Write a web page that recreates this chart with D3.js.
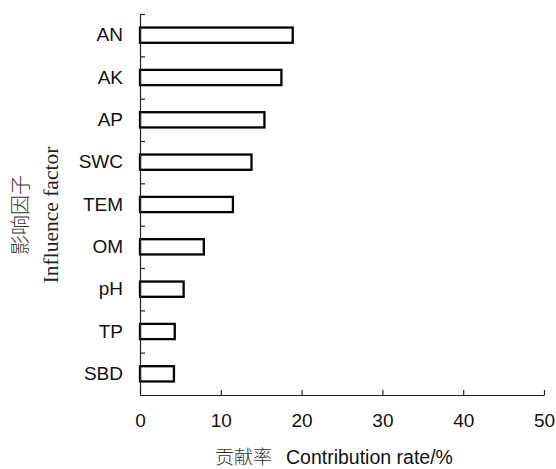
<!DOCTYPE html>
<html>
<head>
<meta charset="utf-8">
<script src="https://cdn.jsdelivr.net/npm/d3@7"></script>
<style>
  body { margin: 0; background: #fff; }
  svg { display: block; }
</style>
</head>
<body>
<div id="chart"></div>
<script>
// influence factors, top to bottom
const factors = ["AN", "AK", "AP", "SWC", "TEM", "OM", "pH", "TP", "SBD"]
// contribution rate (%)
const contribution = [18.9, 17.5, 15.4, 13.8, 11.5, 7.9, 5.4, 4.3, 4.2]
const xTicks = [0, 10, 20, 30, 40, 50]

const width = 556
const height = 469
const margin = {top: 14, left: 140, right: 12, bottom: 74}

const svg = d3.select("#chart")
  .append("svg")
    .attr("width", width)
    .attr("height", height)

const x = d3.scaleLinear()
    .domain([0, 50])
    .range([margin.left, 544])

const y = d3.scaleBand()
    .domain(factors)
    .range([margin.top, 395])
    .paddingInner(0.64)
    .paddingOuter(0.32)

// band edges, used for the y tick marks
const yEdge = d3.scaleLinear()
    .domain([0, factors.length])
    .range([margin.top, 395])

const axisFont = "'Liberation Sans', Arial, sans-serif"

// bars
svg.append("g")
  .selectAll("rect")
  .data(factors)
  .join("rect")
    .attr("x", x(0))
    .attr("y", d => y(d))
    .attr("width", (d, i) => x(contribution[i]) - x(0))
    .attr("height", y.bandwidth())
    .attr("fill", "#fff")
    .attr("stroke", "#000")
    .attr("stroke-width", 2.3)

// x axis, ticks pointing up
const xAxis = svg.append("g")
    .attr("transform", `translate(0,${yEdge(factors.length)})`)
    .call(d3.axisBottom(x).tickValues(xTicks).tickSize(-5).tickPadding(18.5).tickSizeOuter(0))
xAxis.selectAll("text")
    .attr("font-family", axisFont)
    .attr("font-size", 19)
    .attr("fill", "#111")

// y axis: ticks on band edges pointing right
svg.append("g")
    .attr("transform", `translate(${x(0)},0)`)
    .call(d3.axisLeft(yEdge).tickValues(d3.range(0, factors.length)).tickSize(-5).tickFormat("").tickSizeOuter(0))

// y axis category labels
const yLabels = svg.append("g")
    .attr("transform", `translate(${x(0)},0)`)
    .call(d3.axisLeft(y).tickSize(0).tickPadding(17))
yLabels.select(".domain").remove()
yLabels.selectAll("text")
    .attr("font-family", axisFont)
    .attr("font-size", 19)
    .attr("fill", "#111")

svg.selectAll(".domain, .tick line")
    .attr("stroke", "#222")
    .attr("stroke-width", 1.2)

// axis titles
const xTitle = svg.append("text")
    .attr("x", 215)
    .attr("y", 464)
    .attr("font-size", 19)
xTitle.append("tspan")
    .attr("font-family", "'Noto Sans CJK SC', sans-serif")
    .attr("font-weight", 300)
    .attr("fill", "#333")
    .text("贡献率")
xTitle.append("tspan")
    .attr("x", 286)
    .attr("font-family", axisFont)
    .attr("font-size", 19.5)
    .attr("fill", "#111")
    .text("Contribution rate/%")

svg.append("text")
    .attr("transform", "translate(28,215) rotate(-90)")
    .attr("text-anchor", "middle")
    .attr("font-family", "'Noto Sans CJK SC', sans-serif")
    .attr("font-weight", 300)
    .attr("font-size", 20)
    .attr("fill", "#333")
    .text("影响因子")

svg.append("text")
    .attr("transform", "translate(58,215) rotate(-90)")
    .attr("text-anchor", "middle")
    .attr("font-family", "'Liberation Serif', 'Times New Roman', serif")
    .attr("font-size", 21.5)
    .attr("fill", "#222")
    .text("Influence factor")
</script>
</body>
</html>
